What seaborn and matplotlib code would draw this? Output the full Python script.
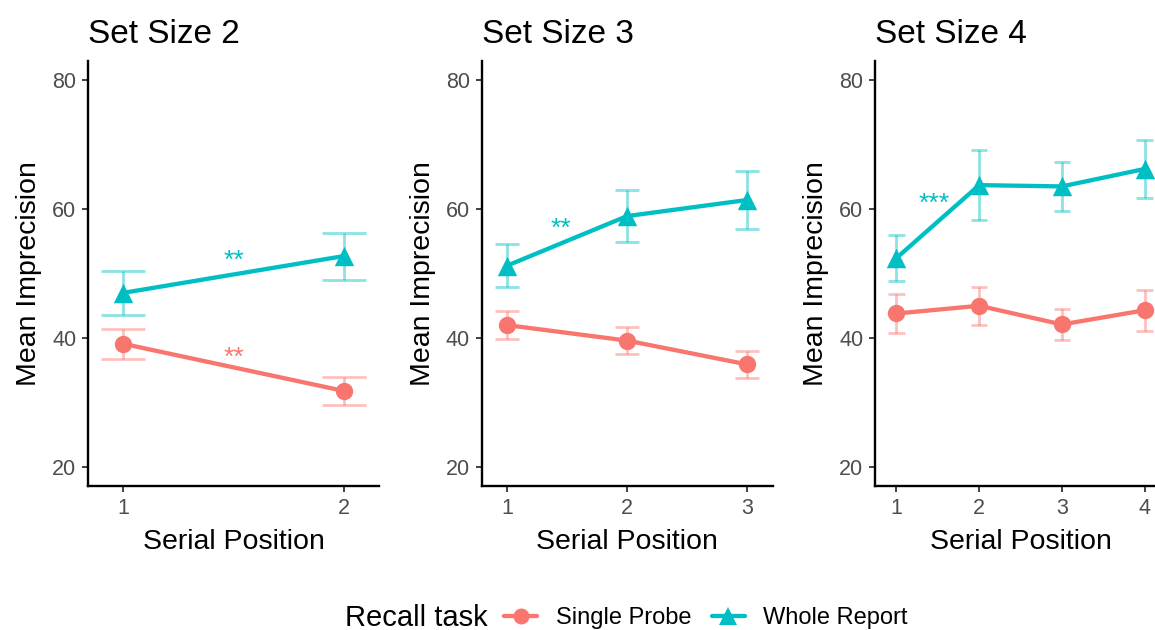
import matplotlib
matplotlib.use("Agg")
import matplotlib.pyplot as plt
from matplotlib.lines import Line2D
import numpy as np
import pandas as pd
import seaborn as sns

sns.set_theme(style="ticks")
plt.rcParams["font.family"] = ["Liberation Sans", "DejaVu Sans"]

# Mean imprecision by serial position, for each set size and recall task
set_sizes = [2, 3, 4]
single_probe = {
    2: [39.1, 31.8],
    3: [42.0, 39.6, 35.9],
    4: [43.8, 45.0, 42.1, 44.3],
}
single_probe_err = {
    2: [2.3, 2.2],
    3: [2.2, 2.1, 2.15],
    4: [2.95, 2.95, 2.35, 3.2],
}
whole_report = {
    2: [47.0, 52.7],
    3: [51.2, 58.9, 61.4],
    4: [52.4, 63.7, 63.5, 66.2],
}
whole_report_err = {
    2: [3.4, 3.65],
    3: [3.3, 4.0, 4.45],
    4: [3.6, 5.45, 3.75, 4.45],
}
# significance marks: (text, task, x, y)
signif = {
    2: [("**", "Whole Report", 1.5, 52.0), ("**", "Single Probe", 1.5, 36.9)],
    3: [("**", "Whole Report", 1.45, 56.9)],
    4: [("***", "Whole Report", 1.46, 60.8)],
}
y_ticks = [20, 40, 60, 80]

tasks = ["Single Probe", "Whole Report"]
palette = {"Single Probe": "#F8766D", "Whole Report": "#00BFC4"}
markers = {"Single Probe": "o", "Whole Report": "^"}
msize = {"Single Probe": 12.5, "Whole Report": 14}

rows = []
for s in set_sizes:
    for i, (m, e) in enumerate(zip(single_probe[s], single_probe_err[s])):
        rows.append(dict(set_size=s, pos=i + 1, task="Single Probe", mean=m, err=e))
    for i, (m, e) in enumerate(zip(whole_report[s], whole_report_err[s])):
        rows.append(dict(set_size=s, pos=i + 1, task="Whole Report", mean=m, err=e))
df = pd.DataFrame(rows)

W, H = 1155, 630
fig = plt.figure(figsize=(W / 100, H / 100), dpi=100)

panel_left = [88, 481.6, 875]
panel_w = 291
top_px, bottom_px = 60.6, 486.4

tick_grey = "#4D4D4D"

for k, s in enumerate(set_sizes):
    ax = fig.add_axes([panel_left[k] / W, 1 - bottom_px / H,
                       panel_w / W, (bottom_px - top_px) / H])
    sub = df[df.set_size == s]
    for t in tasks:
        d = sub[sub.task == t]
        ax.errorbar(d["pos"], d["mean"], yerr=d["err"], fmt="none",
                    ecolor=palette[t], alpha=0.45, elinewidth=2.0,
                    capsize=0, zorder=1)
        # caps drawn as short horizontal segments 0.2 units wide
        for x, m, e in zip(d["pos"], d["mean"], d["err"]):
            for yv in (m - e, m + e):
                ax.plot([x - 0.1, x + 0.1], [yv, yv], color=palette[t],
                        alpha=0.45, lw=2.0, solid_capstyle="butt", zorder=1)
    sns.lineplot(data=sub, x="pos", y="mean", hue="task",
                 hue_order=tasks, palette=palette, lw=3.1,
                 legend=False, ax=ax, zorder=3)
    for t in tasks:
        d = sub[sub.task == t]
        sns.scatterplot(x=d["pos"], y=d["mean"], color=palette[t],
                        marker=markers[t], s=msize[t] ** 2, linewidth=0,
                        legend=False, ax=ax, zorder=4)
    for txt, t, x, y in signif[s]:
        ax.text(x, y, txt, color=palette[t], fontsize=19, ha="center",
                va="center")

    n = len(single_probe[s])
    span = (n - 1) + 0.2
    ax.set_xlim(0.9 - 0.05 * span, n + 0.1 + 0.05 * span)
    ax.set_ylim(17, 83)
    ax.set_xticks(range(1, n + 1))
    ax.set_yticks(y_ticks)
    ax.set_xlabel("Serial Position", fontsize=20.5, color="black", labelpad=7)
    ax.set_ylabel("Mean Imprecision", fontsize=20.5, color="black", labelpad=7)
    ax.set_title(f"Set Size {s}", fontsize=24, loc="left", pad=13,
                 color="black")
    ax.tick_params(axis="both", labelsize=15.5, colors="#333333", length=4.5,
                   width=1.3, labelcolor=tick_grey, pad=4)
    sns.despine(ax=ax)
    for sp in ("left", "bottom"):
        ax.spines[sp].set_color("black")
        ax.spines[sp].set_linewidth(1.7)
    ax.set_facecolor("white")

handles = [Line2D([0], [0], color=palette[t], marker=markers[t], lw=3.1,
                  markersize=msize[t] - 1, markeredgewidth=0) for t in tasks]
fig.text(345 / W, 1 - 618 / H, "Recall task", fontsize=21, va="center",
         ha="left", color="black")
fig.legend(handles, tasks, loc="center left",
           bbox_to_anchor=(504 / W, 1 - 618 / H), ncol=2, frameon=False,
           fontsize=17, handlelength=1.4, handletextpad=0.8,
           columnspacing=0.85, borderaxespad=0, borderpad=0,
           labelcolor="black")

fig.savefig("out.png", dpi=100, facecolor="white")
